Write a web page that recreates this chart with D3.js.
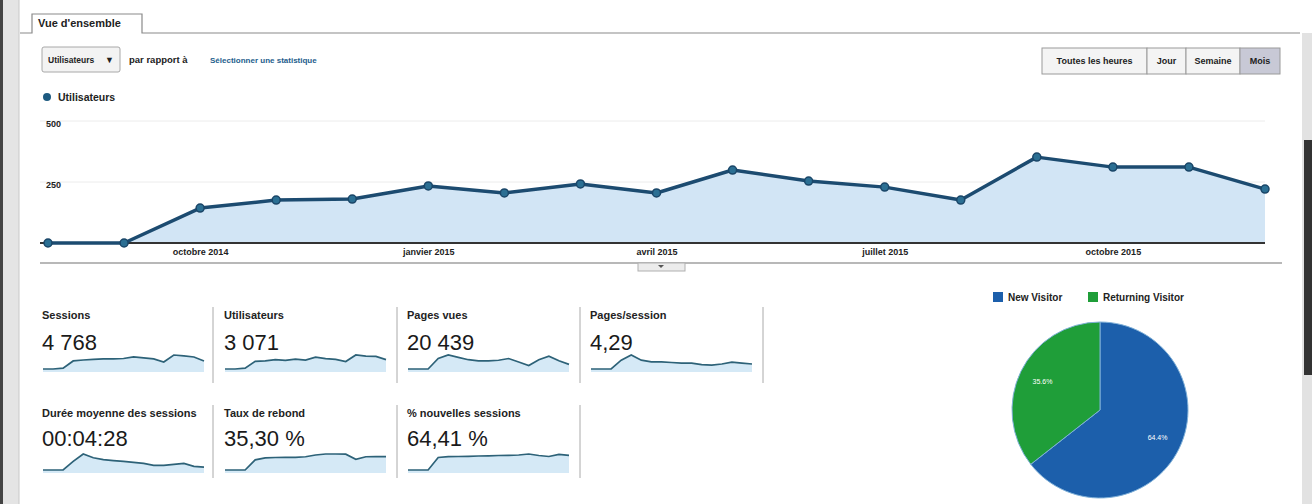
<!DOCTYPE html>
<meta charset="utf-8">
<style>
body { margin: 0; background: #fff; }
text { font-family: "Liberation Sans", Arial, sans-serif; fill: #222; }
.b { font-weight: bold; }
</style>
<svg width="1312" height="504"></svg>
<script src="https://d3js.org/d3.v7.min.js"></script>
<script>
// monthly users (main chart)
var months = ["août 2014","septembre 2014","octobre 2014","novembre 2014","décembre 2014",
  "janvier 2015","février 2015","mars 2015","avril 2015","mai 2015","juin 2015",
  "juillet 2015","août 2015","septembre 2015","octobre 2015","novembre 2015","décembre 2015"];
var users = [0, 0, 143, 176, 180, 234, 205, 242, 205, 299, 254, 229, 176, 352, 311, 311, 221];
var tickMonths = ["octobre 2014","janvier 2015","avril 2015","juillet 2015","octobre 2015"];
var yTicks = [250, 500];

// scorecards
var metricNames = ["Sessions","Utilisateurs","Pages vues","Pages/session",
  "Durée moyenne des sessions","Taux de rebond","% nouvelles sessions"];
var metricValues = ["4 768","3 071","20 439","4,29","00:04:28","35,30 %","64,41 %"];
var sparkSessions = [0,0,30,265,295,315,330,330,345,395,365,330,230,460,430,395,265];
var sparkUsers = [0,0,20,190,200,230,215,245,220,290,255,235,185,345,315,310,230];
var sparkPages = [0,0,0,1690,2260,1880,1500,1320,1320,1410,1690,1130,560,1500,2070,1320,750];
var sparkPagesSession = [0,0,0,6.0,9.5,6.0,4.8,4.8,4.4,4.0,4.0,3.0,2.6,3.4,4.6,4.0,3.4];
var sparkDuration = [0,0,0,300,560,430,365,330,300,265,230,165,165,200,230,130,100];
var sparkBounce = [0,0,0,26,31,32,32.5,32.5,34,38.5,41,41,40.5,27.5,34,34.5,34.5];
var sparkNew = [0,0,0,62.5,66.5,67.5,68.5,70,71,72.5,73.5,75,80,72.5,67.5,78.5,73.5];

// visitor types
var visitorTypes = ["New Visitor","Returning Visitor"];
var visitorShare = [64.41, 35.59];
var visitorLabels = ["64.4%","35.6%"];
var visitorColors = ["#1c5fab","#1f9e39"];

var svg = d3.select("svg");

// scanned page edges
svg.append("rect").attr("x", 0).attr("y", 0).attr("width", 3).attr("height", 504).attr("fill", "#444");
svg.append("rect").attr("x", 3).attr("y", 0).attr("width", 16).attr("height", 504).attr("fill", "#e4e4e4");
svg.append("line").attr("x1", 19).attr("x2", 19).attr("y1", 0).attr("y2", 504).attr("stroke", "#c8c8c8");
svg.append("rect").attr("x", 1302).attr("y", 33).attr("width", 10).attr("height", 471).attr("fill", "#e2e2e2");
svg.append("rect").attr("x", 1304).attr("y", 140).attr("width", 8).attr("height", 235).attr("fill", "#333");

// tab
svg.append("path")
  .attr("d", "M20,33H32V14H142V33H1300")
  .attr("fill", "none").attr("stroke", "#8a8a8a").attr("stroke-width", 1.2);
svg.append("text").attr("class", "b").attr("x", 38).attr("y", 27)
  .style("font-size", "11px").text("Vue d'ensemble");

// metric selector
svg.append("rect").attr("x", 42).attr("y", 47).attr("width", 78).attr("height", 25).attr("rx", 2)
  .attr("fill", "#f3f3f3").attr("stroke", "#a8a8a8");
svg.append("text").attr("class", "b").attr("x", 48).attr("y", 63).style("font-size", "8.5px").text("Utilisateurs");
svg.append("text").attr("x", 105).attr("y", 63).style("font-size", "9px").attr("fill", "#666").text("▼");
svg.append("text").attr("class", "b").attr("x", 129).attr("y", 63).style("font-size", "9.5px").text("par rapport à");
svg.append("text").attr("class", "b").attr("x", 210).attr("y", 63).style("font-size", "8px")
  .style("fill", "#235d8c").text("Sélectionner une statistique");

// period buttons
var btns = [["Toutes les heures", 1042, 105], ["Jour", 1147, 39], ["Semaine", 1186, 54], ["Mois", 1240, 40]];
var bg = svg.append("g");
bg.selectAll("rect").data(btns).enter().append("rect")
  .attr("x", function(d) { return d[1]; }).attr("y", 48)
  .attr("width", function(d) { return d[2]; }).attr("height", 26)
  .attr("fill", function(d, i) { return i == 3 ? "#c8c9d6" : "#f4f4f4"; })
  .attr("stroke", "#9a9a9a");
bg.selectAll("text").data(btns).enter().append("text")
  .attr("class", "b").attr("text-anchor", "middle")
  .attr("x", function(d) { return d[1] + d[2] / 2; }).attr("y", 64)
  .style("font-size", "9px").text(function(d) { return d[0]; });

// legend
svg.append("circle").attr("cx", 47).attr("cy", 97).attr("r", 4).attr("fill", "#1d5a80");
svg.append("text").attr("class", "b").attr("x", 58).attr("y", 101).style("font-size", "10.5px").text("Utilisateurs");

// main chart
var x = d3.scalePoint().domain(months).range([48, 1265]);
var y = d3.scaleLinear().domain([0, 500]).range([243, 121]);

svg.append("g").selectAll("line").data(yTicks).enter().append("line")
  .attr("x1", 40).attr("x2", 1265)
  .attr("y1", function(d) { return y(d); }).attr("y2", function(d) { return y(d); })
  .attr("stroke", "#ececec");
svg.append("g").selectAll("text").data(yTicks).enter().append("text")
  .attr("class", "b").attr("x", 46).attr("y", function(d) { return y(d) + 6; })
  .style("font-size", "9px").text(function(d) { return d; });

svg.append("path").datum(users)
  .attr("fill", "#d2e5f5")
  .attr("d", d3.area().x(function(d, i) { return x(months[i]); }).y0(y(0)).y1(function(d) { return y(d); }));

var axis = svg.append("g").attr("transform", "translate(0," + y(0) + ")")
  .call(d3.axisBottom(x).tickValues(tickMonths).tickSize(0).tickPadding(6));
axis.select(".domain").remove();
axis.selectAll("text").attr("class", "b").style("font-size", "9px").style("fill", "#222");
svg.append("line").attr("x1", 40).attr("x2", 1265).attr("y1", y(0)).attr("y2", y(0))
  .attr("stroke", "#333").attr("stroke-width", 2);

svg.append("path").datum(users)
  .attr("fill", "none").attr("stroke", "#1c4b70").attr("stroke-width", 3.5).attr("stroke-linejoin", "round")
  .attr("d", d3.line().x(function(d, i) { return x(months[i]); }).y(function(d) { return y(d); }));
svg.append("g").selectAll("circle").data(users).enter().append("circle")
  .attr("cx", function(d, i) { return x(months[i]); }).attr("cy", function(d) { return y(d); })
  .attr("r", 4).attr("fill", "#2b6f93").attr("stroke", "#1a4668").attr("stroke-width", 1.5);

// separator + handle
svg.append("line").attr("x1", 40).attr("x2", 1282).attr("y1", 263).attr("y2", 263)
  .attr("stroke", "#b8b8b8").attr("stroke-width", 2);
svg.append("rect").attr("x", 638).attr("y", 263).attr("width", 47).attr("height", 8)
  .attr("fill", "#ececec").attr("stroke", "#b0b0b0");
svg.append("path").attr("d", "M658,265h6l-3,3z").attr("fill", "#555");

// scorecards
var sparks = [sparkSessions, sparkUsers, sparkPages, sparkPagesSession, sparkDuration, sparkBounce, sparkNew];
var colX = [42, 224, 407, 590];
var dividers = [213, 397, 580, 763];
var rows = [{title: 319, value: 350, base: 369, h: 14, top: 307, bot: 383},
            {title: 417, value: 446, base: 470, h: 16, top: 405, bot: 478}];

dividers.forEach(function(dx) {
  svg.append("line").attr("x1", dx).attr("x2", dx).attr("y1", rows[0].top).attr("y2", rows[0].bot).attr("stroke", "#aaa");
});
dividers.slice(0, 3).forEach(function(dx) {
  svg.append("line").attr("x1", dx).attr("x2", dx).attr("y1", rows[1].top).attr("y2", rows[1].bot).attr("stroke", "#aaa");
});

metricNames.forEach(function(name, k) {
  var r = rows[k < 4 ? 0 : 1];
  var cx = colX[k < 4 ? k : k - 4];
  var g = svg.append("g");
  g.append("text").attr("class", "b").attr("x", cx).attr("y", r.title).style("font-size", "11px").text(name);
  g.append("text").attr("x", cx).attr("y", r.value).style("font-size", "22px").style("fill", "#1a1a1a").text(metricValues[k]);
  var data = sparks[k];
  var sx = d3.scaleLinear().domain([0, data.length - 1]).range([cx + 1, cx + 162]);
  var sy = d3.scaleLinear().domain([0, d3.max(data)]).range([r.base, r.base - r.h]);
  g.append("path").datum(data).attr("fill", "#d5e9f6")
    .attr("d", d3.area().x(function(d, i) { return sx(i); }).y0(r.base + 3).y1(function(d) { return sy(d); }));
  g.append("path").datum(data).attr("fill", "none").attr("stroke", "#2d6278").attr("stroke-width", 1.7)
    .attr("d", d3.line().x(function(d, i) { return sx(i); }).y(function(d) { return sy(d); }));
});

// pie
var pie = d3.pie().sort(null).value(function(d) { return d; });
var arc = d3.arc().innerRadius(0).outerRadius(88);
var labelArc = d3.arc().innerRadius(64).outerRadius(64);
var pg = svg.append("g").attr("transform", "translate(1100,410)");
var slices = pie(visitorShare);
pg.selectAll("path").data(slices).enter().append("path")
  .attr("d", arc).attr("fill", function(d, i) { return visitorColors[i]; })
  .attr("stroke", "#7fb0d8").attr("stroke-width", 1);
pg.selectAll("text").data(slices).enter().append("text")
  .attr("transform", function(d) { return "translate(" + labelArc.centroid(d) + ")"; })
  .attr("text-anchor", "middle").attr("dy", "0.35em")
  .style("font-size", "7px").style("fill", "#fff").text(function(d, i) { return visitorLabels[i]; });

var lg = svg.append("g");
var legX = [993, 1088];
visitorTypes.forEach(function(t, i) {
  lg.append("rect").attr("x", legX[i]).attr("y", 292).attr("width", 10).attr("height", 10).attr("fill", visitorColors[i]);
  lg.append("text").attr("class", "b").attr("x", legX[i] + 15).attr("y", 301).style("font-size", "10px").text(t);
});
</script>
